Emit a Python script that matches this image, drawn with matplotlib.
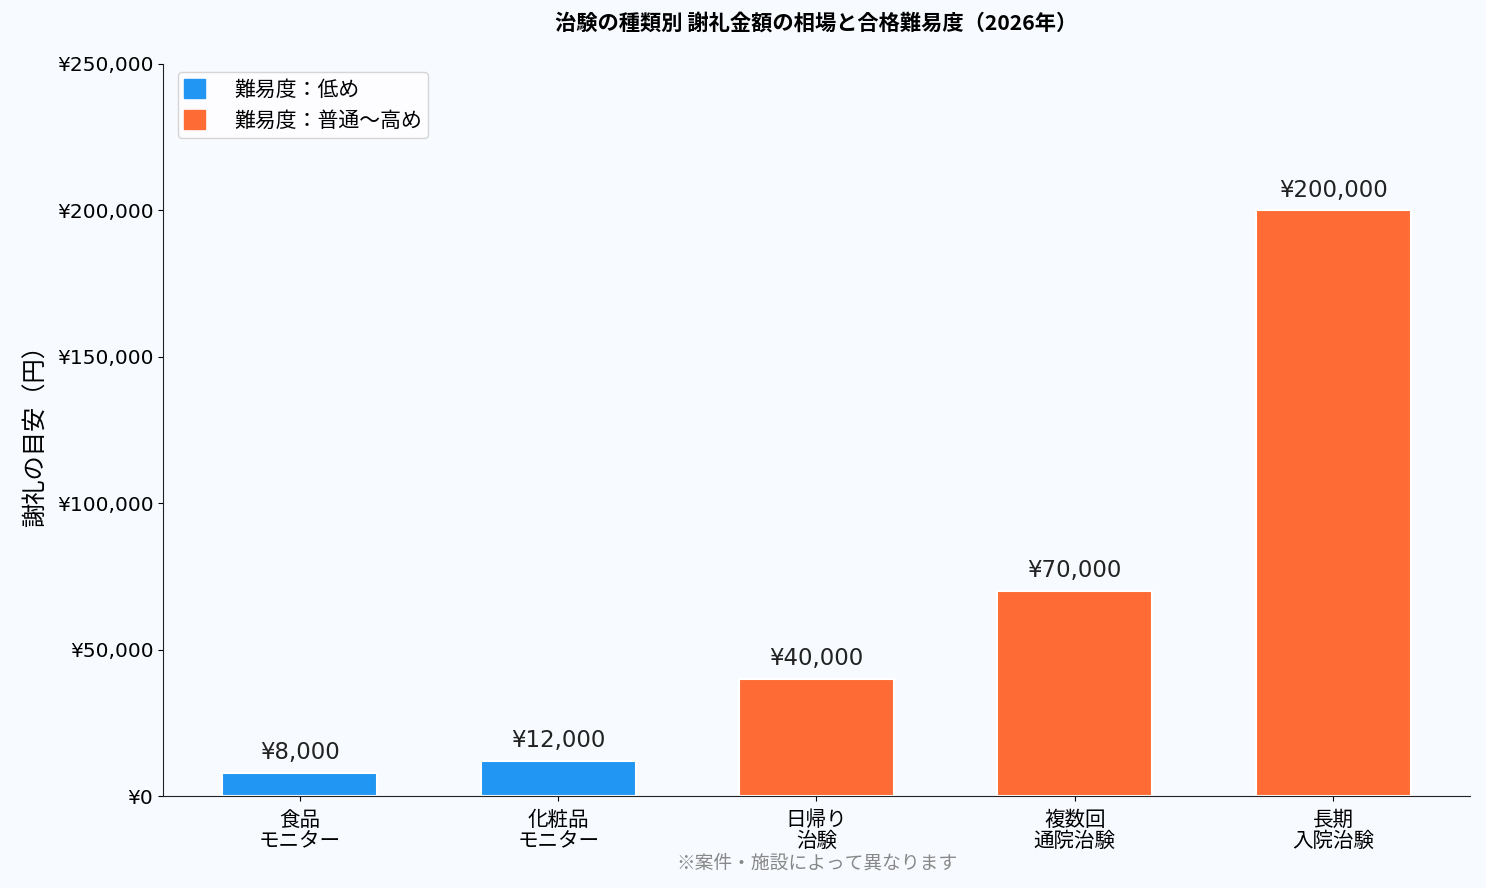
import matplotlib
matplotlib.use("Agg")
import matplotlib.pyplot as plt
from matplotlib.patches import Patch
from matplotlib.ticker import FuncFormatter

plt.rcParams["font.family"] = ["DejaVu Sans", "Noto Sans CJK JP"]

categories = ["食品\nモニター", "化粧品\nモニター", "日帰り\n治験", "複数回\n通院治験", "長期\n入院治験"]
rewards = [8000, 12000, 40000, 70000, 200000]
difficulty = ["low", "low", "high", "high", "high"]
COLORS = {"low": "#2196F3", "high": "#FF6B35"}
BG = "#F7FAFF"
CJK = ["Noto Sans CJK JP", "DejaVu Sans"]

fig = plt.figure(figsize=(14.86, 8.88), dpi=100, facecolor=BG)
ax = fig.add_axes([0.1097, 0.1036, 0.8795, 0.8244], facecolor=BG)

x = range(len(categories))
bars = ax.bar(x, rewards, width=0.6, color=[COLORS[d] for d in difficulty],
              edgecolor="white", linewidth=1.5)
for b, v in zip(bars, rewards):
    ax.text(b.get_x() + b.get_width() / 2, v + 3000, f"¥{v:,}",
            ha="center", va="bottom", fontsize=16.5, color="#222222")

ax.set_xticks(list(x))
ax.set_xticklabels(categories, fontsize=14.8, linespacing=0.95, family=CJK)
ax.tick_params(axis="x", pad=6)
ax.set_ylim(0, 250000)
ax.set_yticks(range(0, 250001, 50000))
ax.yaxis.set_major_formatter(FuncFormatter(lambda v, p: f"¥{int(v):,}"))
ax.tick_params(axis="y", labelsize=14.5)
ax.set_ylabel("謝礼の目安（円）", fontsize=17.5, family=CJK, labelpad=6)
ax.spines["top"].set_visible(False)
ax.spines["right"].set_visible(False)
for s in ("left", "bottom"):
    ax.spines[s].set_color("#222222")

ax.set_title("治験の種類別 謝礼金額の相場と合格難易度（2026年）", fontsize=15.3,
             fontweight="bold", pad=25, family=CJK)

handles = [Patch(color=COLORS["low"], label="難易度：低め"),
           Patch(color=COLORS["high"], label="難易度：普通〜高め")]
ax.legend(handles=handles, loc="upper left", prop={"family": CJK, "size": 15},
          frameon=True, facecolor="white", edgecolor="#cccccc",
          handlelength=1.0, handleheight=1.0, handletextpad=1.4, borderpad=0.3,
          borderaxespad=0.4, labelspacing=0.45, bbox_to_anchor=(0.005, 1.0))

ax.text(0.5, -0.077, "※案件・施設によって異なります", transform=ax.transAxes,
        ha="center", va="top", fontsize=13.5, color="#888888", family=CJK)

fig.savefig("out.png", dpi=100, facecolor=BG)
